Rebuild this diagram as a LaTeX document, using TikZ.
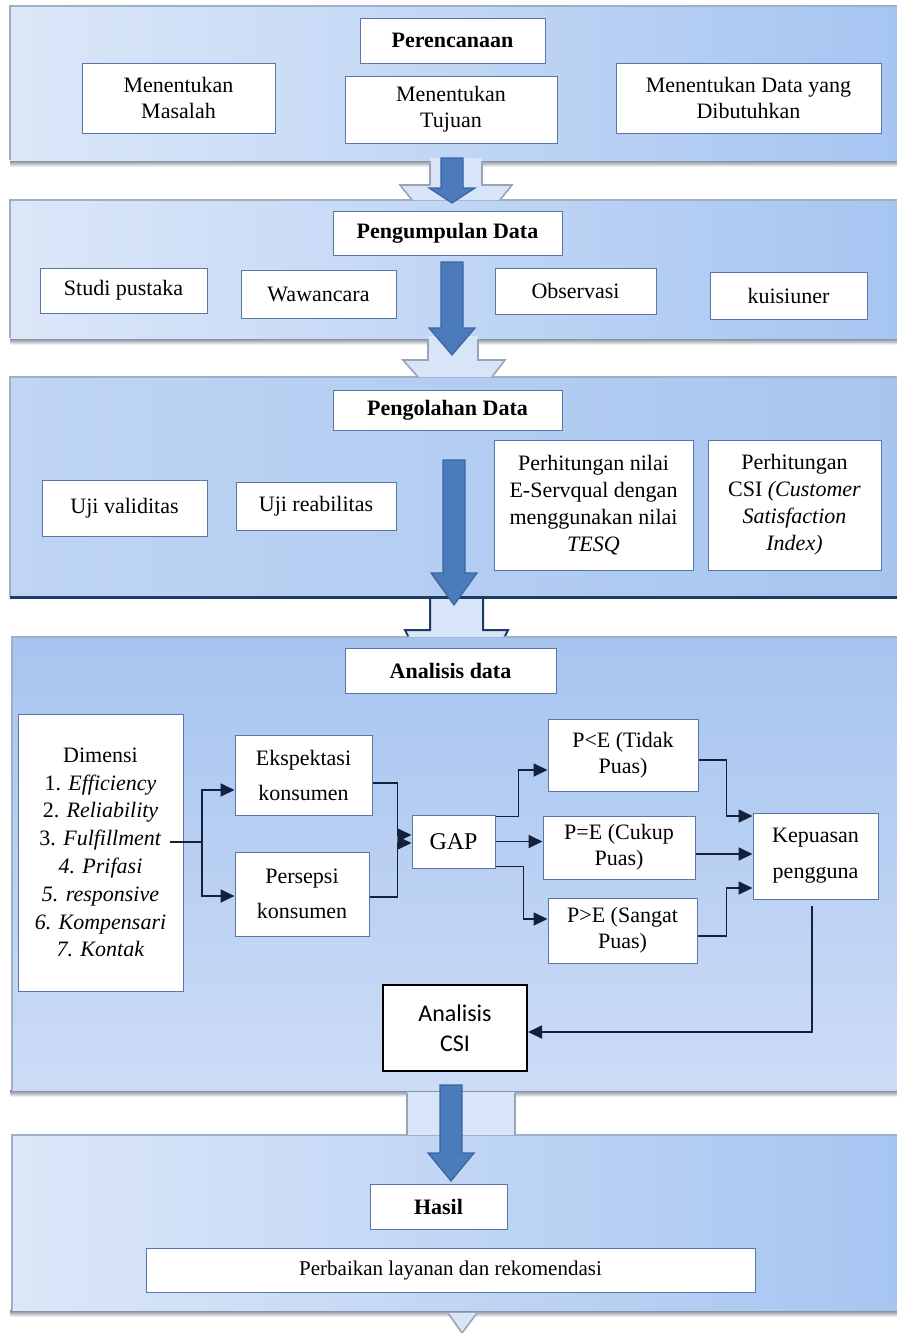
\documentclass[tikz,border=0pt]{standalone}
\usepackage{fontspec}
\setmainfont{Liberation Serif}
\newfontfamily\calib{Carlito}
\usetikzlibrary{arrows.meta,calc}
\definecolor{bord}{HTML}{5877A8}
\definecolor{linec}{HTML}{14213D}
\definecolor{arrf}{HTML}{4B7BBA}
\definecolor{arrd}{HTML}{3A65A0}
\definecolor{chevf}{HTML}{D8E4F7}
\definecolor{chevl}{HTML}{98A4B5}
\definecolor{navy}{HTML}{1F3A64}
\definecolor{pl}{HTML}{DCE7F8}
\definecolor{pm}{HTML}{EAF1FB}
\definecolor{pr}{HTML}{A6C5F1}
\definecolor{shd}{HTML}{76818F}
\definecolor{HTMLtop}{HTML}{9DB0C8}
\tikzset{
  box/.style={draw=bord, line width=0.5pt, fill=white, align=center, inner sep=1pt,
    font=\fontsize{11}{13}\selectfont},
  headbox/.style={box, font=\bfseries\fontsize{11}{13}\selectfont},
  conn/.style={draw=linec, line width=0.9pt, -{Triangle[length=7pt,width=6.5pt]}},
  plainline/.style={draw=linec, line width=0.9pt},
  bigarrow/.style={fill=arrf, draw=arrd, line width=0.6pt},
  chevwall/.style={draw=chevl, line width=0.8pt},
  lightpanel/.style={left color=pl, middle color=pm, right color=pr},
  edge/.style={draw=HTMLtop, line width=0.6pt},
}
\newcommand{\bluearrow}[4]{%
  \filldraw[bigarrow] ({#1-11},#2) -- ({#1+11},#2) -- ({#1+11},#3) -- ({#1+23},#3)
    -- (#1,#4) -- ({#1-23},#3) -- ({#1-11},#3) -- cycle;}
\newcommand{\pshadow}[1]{%
  \shade[top color=shd, bottom color=white] (10,#1) rectangle (897,{#1+7});}
\begin{document}
\begin{tikzpicture}[x=0.5pt,y=-0.5pt]
\useasboundingbox (0,0) rectangle (897,1333);
\fill[white] (0,0) rectangle (897,1333);

% ---------- panels ----------
\pshadow{160}
\shade[lightpanel] (10,6) rectangle (897,160);
\draw[edge] (10,160) -- (10,6) -- (897,6);

\pshadow{338}
\shade[lightpanel] (10,200) rectangle (897,338);
\draw[edge] (10,338) -- (10,200) -- (897,200);

\shade[left color={rgb,255:red,192;green,213;blue,244}, right color={rgb,255:red,168;green,197;blue,240}] (10,377) rectangle (897,597);
\draw[edge] (10,597) -- (10,377) -- (897,377);
\draw[navy, line width=1.5pt] (10,597) -- (897,597);

\pshadow{1090}
\shade[top color={rgb,255:red,167;green,196;blue,240}, bottom color={rgb,255:red,204;green,220;blue,246}] (12,637) rectangle (897,1090);
\draw[edge] (12,1090) -- (12,637) -- (897,637);

\pshadow{1310}
\shade[lightpanel] (12,1135) rectangle (897,1310);
\draw[edge] (12,1310) -- (12,1135) -- (897,1135);

% ---------- light connectors between panels ----------
\fill[chevf] (430,158) -- (430,185) -- (400,185) -- (412,200) -- (500,200) -- (512,185) -- (482,185) -- (482,158) -- cycle;
\draw[chevwall] (430,161) -- (430,185) -- (400,185) -- (412,200);
\draw[chevwall] (482,161) -- (482,185) -- (512,185) -- (500,200);

\fill[chevf] (428,336) -- (428,360) -- (403,360) -- (418,377) -- (492,377) -- (505,360) -- (478,360) -- (478,336) -- cycle;
\draw[chevwall] (428,339) -- (428,360) -- (403,360) -- (418,377);
\draw[chevwall] (478,339) -- (478,360) -- (505,360) -- (492,377);

\fill[chevf] (430,599) -- (430,630) -- (405,630) -- (410,637) -- (503,637) -- (508,630) -- (483,630) -- (483,599) -- cycle;
\draw[navy, line width=1pt] (430,597) -- (430,630) -- (405,630) -- (408,636);
\draw[navy, line width=1pt] (483,597) -- (483,630) -- (508,630) -- (505,636);

\fill[chevf] (407,1092) rectangle (515,1135);
\draw[chevwall] (407,1093) -- (407,1135);
\draw[chevwall] (515,1093) -- (515,1135);

\fill[chevf] (448,1313) -- (477,1313) -- (462,1333) -- cycle;
\draw[chevwall] (448,1313) -- (462,1333) -- (477,1313);

% ---------- panel 1: Perencanaan ----------
\node[headbox, minimum width=92.5pt, minimum height=22.5pt] (per) at (452.5,40.5) {Perencanaan};
\node[box, minimum width=96.5pt, minimum height=35pt] (mas) at (178.5,98) {Menentukan\\Masalah};
\node[box, minimum width=106pt, minimum height=33.5pt] (tuj) at (451,109.5) {Menentukan\\Tujuan};
\node[box, minimum width=132.5pt, minimum height=35pt] (dat) at (748.5,98) {Menentukan Data yang\\Dibutuhkan};

% ---------- panel 2: Pengumpulan Data ----------
\node[headbox, minimum width=114.5pt, minimum height=22pt] (kum) at (447.5,233) {Pengumpulan Data};
\node[box, minimum width=83.5pt, minimum height=22.5pt] (stu) at (123.5,290.5) {Studi pustaka};
\node[box, minimum width=77.5pt, minimum height=24pt] (waw) at (318.5,294) {Wawancara};
\node[box, minimum width=80.5pt, minimum height=23pt] (obs) at (575.5,291) {Observasi};
\node[box, minimum width=78.5pt, minimum height=23.5pt] (kui) at (788.5,295.5) {kuisiuner};

% ---------- panel 3: Pengolahan Data ----------
\node[headbox, minimum width=114.5pt, minimum height=20pt] (olah) at (447.5,410) {Pengolahan Data};
\node[box, minimum width=82.5pt, minimum height=28pt] (val) at (124.5,508) {Uji validitas};
\node[box, minimum width=80pt, minimum height=24pt] (rea) at (316,506) {Uji reabilitas};
\node[box, minimum width=99.5pt, minimum height=65pt, font=\fontsize{11}{13.5}\selectfont] (esq) at (593.5,505)
  {Perhitungan nilai\\E-Servqual dengan\\menggunakan nilai\\\textit{TESQ}};
\node[box, minimum width=86.5pt, minimum height=65pt, font=\fontsize{11}{13.5}\selectfont] (csi) at (794.5,505)
  {Perhitungan\\CSI \textit{(Customer}\\\textit{Satisfaction}\\\textit{Index)}};

% ---------- panel 4: Analisis data ----------
\node[headbox, minimum width=105.5pt, minimum height=22.5pt] (ana) at (450.5,670.5) {Analisis data};
\node[box, minimum width=82.5pt, minimum height=138.5pt, font=\fontsize{11}{13.9}\selectfont] (dim) at (100.5,852.5)
  {Dimensi\\1. \textit{Efficiency}\\2. \textit{Reliability}\\3. \textit{Fulfillment}\\\textit{4. Prifasi}\\\textit{5. responsive}\\\textit{6. Kompensari}\\\textit{7. Kontak}};
\node[box, minimum width=68.5pt, minimum height=40pt, font=\fontsize{11}{17.5}\selectfont] (eks) at (303.5,775) {Ekspektasi\\konsumen};
\node[box, minimum width=67pt, minimum height=42pt, font=\fontsize{11}{17.5}\selectfont] (pers) at (302,894) {Persepsi\\konsumen};
\node[box, minimum width=41.5pt, minimum height=26.5pt, font=\fontsize{12}{14}\selectfont] (gap) at (453.5,841.5) {GAP};
\node[box, minimum width=75pt, minimum height=36pt] (plt) at (623,755) {P<E (Tidak\\Puas)};
\node[box, minimum width=76pt, minimum height=31.5pt] (peq) at (619,847.5) {P=E (Cukup\\Puas)};
\node[box, minimum width=74.5pt, minimum height=32.5pt] (pgt) at (622.5,930.5) {P>E (Sangat\\Puas)};
\node[box, minimum width=62.5pt, minimum height=43pt, font=\fontsize{11}{18}\selectfont] (kep) at (815.5,856) {Kepuasan\\pengguna};
\node[box, draw=black, line width=1pt, minimum width=72pt, minimum height=43pt, font=\calib\fontsize{12}{15}\selectfont] (acsi) at (455,1028) {Analisis\\CSI};

% connectors in panel 4
\coordinate (sp) at (202,842);
\draw[plainline] ([xshift=-7pt,yshift=5.25pt]dim.east) -- (sp);
\draw[conn] (sp) |- ([yshift=-7.5pt]eks.west);
\draw[conn] (sp) |- ([yshift=-1pt]pers.west);
\draw[conn] ([yshift=-4pt]eks.east) -- ++(25,0) |- ([yshift=3.25pt]gap.west);
\draw[conn] ([yshift=-1.5pt]pers.east) -- ++(28,0) |- ([yshift=-0.75pt]gap.west);
\draw[conn] ([yshift=-1pt]gap.north east) -- ++(23,0) |- ([yshift=-7.5pt]plt.west);
\draw[conn] (gap.east) -- (gap.east -| peq.west);
\draw[conn] ([yshift=1pt]gap.south east) -- ++(28,0) |- ([yshift=5.75pt]pgt.west);
\draw[conn] ([yshift=-2.5pt]plt.east) -- ++(28,0) |- ([yshift=20pt]kep.west);
\coordinate (h1) at ([yshift=-3.25pt]peq.east);
\draw[conn] (h1) -- (h1 -| kep.west);
\draw[conn] ([yshift=-2.75pt]pgt.east) -- ++(29,0) |- ([yshift=-16pt]kep.west);
\draw[conn] ([xshift=-1.75pt,yshift=-3pt]kep.south) |- ([yshift=-2pt]acsi.east);

% ---------- panel 5: Hasil ----------
\node[headbox, minimum width=68.5pt, minimum height=22.5pt] (has) at (438.5,1206.5) {Hasil};
\node[box, minimum width=304.5pt, minimum height=22pt, font=\fontsize{10.5}{12}\selectfont] (rek) at (450.5,1270) {Perbaikan layanan dan rekomendasi};

% ---------- big blue arrows ----------
\bluearrow{452}{158}{188}{203}
\bluearrow{452}{262}{328}{355}
\bluearrow{454}{460}{573}{605}
\bluearrow{451}{1085}{1153}{1181}
\end{tikzpicture}
\end{document}
